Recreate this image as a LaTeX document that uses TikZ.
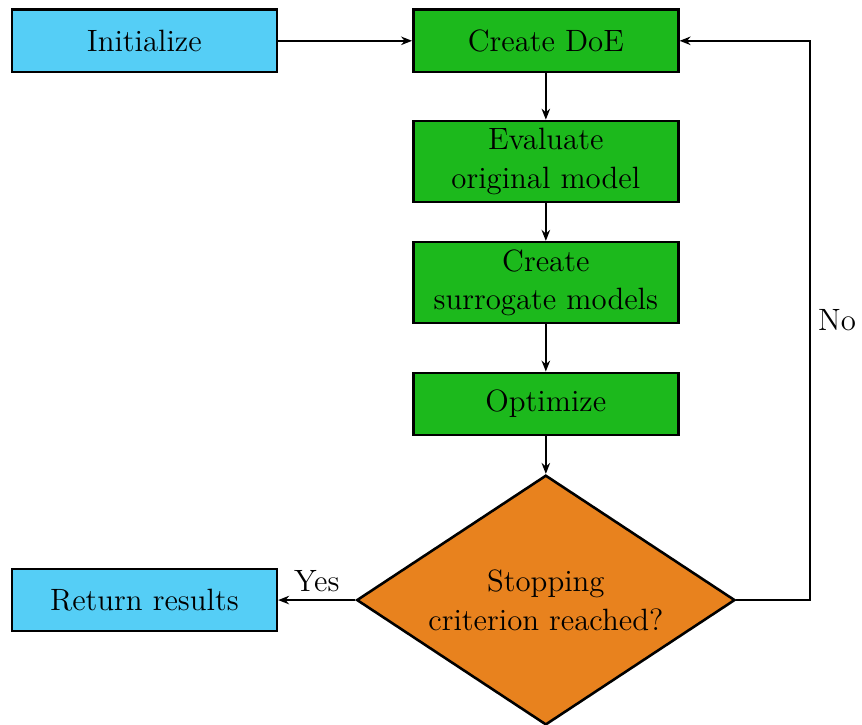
\documentclass[tikz,border=0pt]{standalone}
\usepackage{tikz}
\usepackage[dvipsnames]{xcolor}
\usetikzlibrary{shapes.geometric,arrows.meta}

\definecolor{startblue}{RGB}{85,206,246}
\definecolor{stepgreen}{RGB}{28,185,28}
\definecolor{checkorange}{RGB}{232,130,30}

\begin{document}
\begin{tikzpicture}[
    block/.style={draw, very thick, minimum width=4.35cm, minimum height=1.02cm, align=center, font=\Large, inner sep=2pt},
    twoline/.style={minimum height=1.33cm},
    decision/.style={diamond, draw, very thick, fill=checkorange, aspect=1.5, minimum width=6.21cm, minimum height=4.1cm, inner sep=0pt, align=center, font=\Large},
    flow/.style={thick, -{Stealth[length=1.8mm, width=1.4mm]}},
    lbl/.style={font=\Large}
]
    \useasboundingbox (0,0) rectangle (14.15,-11.89);

    % start and end
    \node[block, fill=startblue] (init) at (2.37,-0.67) {Initialize};
    \node[block, fill=startblue] (ret) at (2.37,-9.85) {Return results};

    % main loop
    \node[block, fill=stepgreen] (doe) at (8.96,-0.67) {Create DoE};
    \node[block, twoline, fill=stepgreen] (eval) at (8.96,-2.65) {Evaluate\\original model};
    \node[block, twoline, fill=stepgreen] (surr) at (8.96,-4.64) {Create\\surrogate models};
    \node[block, fill=stepgreen] (opt) at (8.96,-6.63) {Optimize};
    \node[decision] (stop) at (8.96,-9.85) {Stopping\\criterion reached?};

    \coordinate (back) at (13.30,-9.85); % corner of feedback line

    \draw[flow] (init) -- (doe);
    \draw[flow] (doe) -- (eval);
    \draw[flow] (eval) -- (surr);
    \draw[flow] (surr) -- (opt);
    \draw[flow] (opt) -- (stop);
    \draw[flow] (stop.west) -- node[lbl, above] {Yes} (ret.east);
    \draw[flow] (stop.east) -- (back) |- node[lbl, pos=0.25, right] {No} (doe.east);
\end{tikzpicture}
\end{document}
